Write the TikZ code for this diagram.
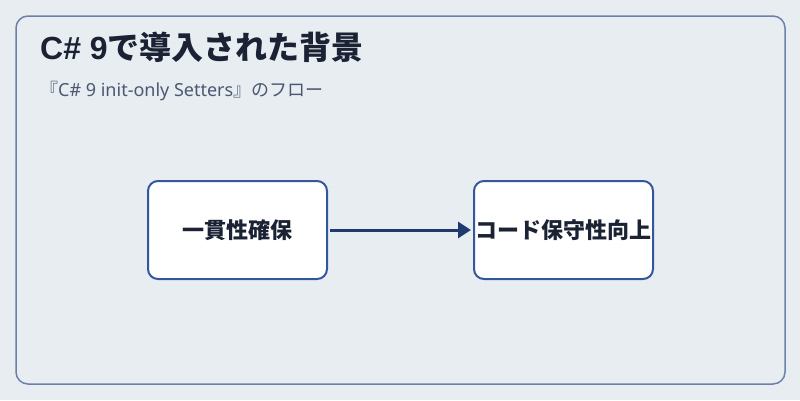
\documentclass[tikz,border=0pt]{standalone}
\usepackage{fontspec}
\setmainfont{Noto Sans CJK JP}
\newfontfamily\latintitle{Liberation Sans}
\newfontfamily\latinsub{Noto Sans}
\usetikzlibrary{arrows.meta}
\definecolor{bg}{HTML}{E8EDF2}
\definecolor{frame}{HTML}{6B80AA}
\definecolor{titlec}{HTML}{1A2233}
\definecolor{subc}{HTML}{4A5870}
\definecolor{boxc}{HTML}{34579C}
\definecolor{arrowc}{HTML}{1F3A6E}
\tikzset{
  stepbox/.style={draw=boxc, line width=2pt, fill=white, rounded corners=10pt,
    minimum width=179pt, minimum height=98pt, inner sep=0pt,
    font=\fontsize{22}{26}\selectfont\bfseries, text=titlec},
  conn/.style={draw=arrowc, line width=3pt, -{Triangle[length=13pt,width=16pt]}}
}
\begin{document}
\begin{tikzpicture}[x=1pt,y=-1pt]
\useasboundingbox (0,0) rectangle (800,400);
\fill[bg] (0,0) rectangle (800,400);
\draw[frame, line width=1.5pt, rounded corners=12pt] (16,16) rectangle (785,384);
\node[anchor=base west, inner sep=0pt, text=titlec, font=\fontsize{32}{38}\selectfont\bfseries] (title) at (40,59) {{\latintitle\bfseries C\# 9}で導入された背景};
\node[anchor=base west, inner sep=0pt, text=subc, font=\fontsize{18}{22}\selectfont] (sub) at (40,96) {『{\latinsub C\# 9 init-only Setters}』のフロー};
\node[stepbox] (a) at (237.5,230) {一貫性確保};
\node[stepbox] (b) at (563.5,230) {コード保守性向上};
\draw[conn] ([xshift=2pt]a.east) -- ([xshift=-2pt]b.west);
\end{tikzpicture}
\end{document}
